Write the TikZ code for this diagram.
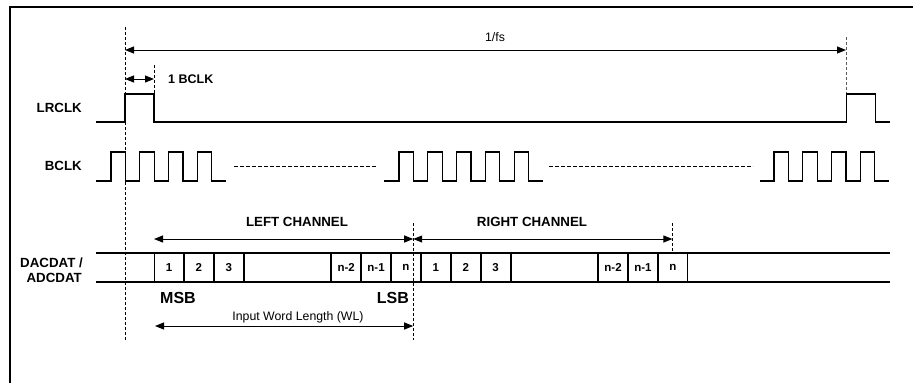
\documentclass[tikz,border=0pt]{standalone}
\usepackage{fontspec}
\setmainfont{Liberation Sans}
\usetikzlibrary{arrows.meta}
\begin{document}
\begin{tikzpicture}[x=1pt,y=-1pt,
  sig/.style={line width=1.3pt},
  guide/.style={line width=0.8pt,dash pattern=on 3pt off 2pt},
  gap/.style={line width=0.8pt,dash pattern=on 4pt off 2pt},
  dim/.style={line width=1pt,{Triangle[length=9pt,width=7pt]}-{Triangle[length=9pt,width=7pt]}},
  dimr/.style={line width=1pt,-{Triangle[length=9pt,width=7pt]}},
  lbl/.style={font=\fontsize{13.3}{15}\selectfont\bfseries,inner sep=0pt},
  big/.style={font=\fontsize{16}{18}\selectfont\bfseries,inner sep=0pt},
  reg/.style={font=\fontsize{12.3}{14}\selectfont,inner sep=0pt},
  bit/.style={draw,line width=1.1pt,minimum width=28.8pt,minimum height=29pt,inner sep=0pt,anchor=west,
              font=\fontsize{11.5}{13}\selectfont\bfseries},
]
\useasboundingbox (0,0) rectangle (913,383);
% frame
\draw[line width=2pt] (9.5,383) -- (9.5,6.5) -- (913,6.5);

% signal labels
\node[lbl,anchor=east] (lr) at (82,108) {LRCLK};
\node[lbl,anchor=east] (bc) at (82,166) {BCLK};
\node[lbl,anchor=east,align=right] (dd) at (83,270) {DACDAT /\\ADCDAT\kern1pt};

% coordinates
\coordinate (t0) at (125,27);
\coordinate (t0b) at (125,340);
\coordinate (t1) at (154,65);
\coordinate (t1b) at (154,94);
\coordinate (fsA) at (125,50);
\coordinate (fsB) at (846,50);
\coordinate (fsT) at (846,37);
\coordinate (fsD) at (846,94);
\coordinate (bA) at (125,79);
\coordinate (bB) at (154,79);
\coordinate (mA) at (413.2,223);
\coordinate (mB) at (413.2,340);
\coordinate (rA) at (672.4,223);
\coordinate (rB) at (672.4,253);

% guides
\draw[guide] (t0) -- (t0b);
\draw[guide] (t1) -- (t1b);
\draw[guide,gray!70!black] (fsT) -- (fsD);
\draw[guide] (mA) -- (mB);
\draw[guide] (rA) -- (rB);

% dimension arrows
\draw[dim] (fsA) -- (fsB);
\node[reg] (fs) at (495,37) {1/fs};
\draw[dim] (bA) -- (bB);
\node[lbl,anchor=west,font=\fontsize{12.5}{14}\selectfont\bfseries] (onebclk) at (168,79) {1 BCLK};

% LRCLK
\draw[sig] (96,122) -- (125,122) -- (125,94) -- (154,94) -- (154,122) -- (846.7,122) -- (846.7,94) -- (875.7,94) -- (875.7,122) -- (890,122);

% BCLK
\draw[sig] (96,181) -- (111,181) foreach \i in {1,...,4} { -- ++(0,-29) -- ++(14.4,0) -- ++(0,29) -- ++(14.4,0)};
\draw[sig] (384,181) -- (399,181) foreach \i in {1,...,5} { -- ++(0,-29) -- ++(14.4,0) -- ++(0,29) -- ++(14.4,0)};
\draw[sig] (760,181) -- (774,181) foreach \i in {1,...,4} { -- ++(0,-29) -- ++(14.4,0) -- ++(0,29) -- ++(14.4,0)};
\draw[gap] (234,166) -- (377,166);
\draw[gap] (549,166) -- (753,166);

% data row
\draw[sig] (96,253) -- (890,253);
\draw[sig] (96,282) -- (890,282);
\node[bit] (l1) at (154,267.5) {1};
\node[bit] (l2) at (l1.east) {2};
\node[bit] (l3) at (l2.east) {3};
\node[bit,minimum width=86.4pt] (lx) at (l3.east) {};
\node[bit] (ln2) at (lx.east) {n-2};
\node[bit] (ln1) at (ln2.east) {n-1};
\node[bit] (ln) at (ln1.east) {n};
\node[bit] (r1) at (ln.east) {1};
\node[bit] (r2) at (r1.east) {2};
\node[bit] (r3) at (r2.east) {3};
\node[bit,minimum width=86.4pt] (rx) at (r3.east) {};
\node[bit] (rn2) at (rx.east) {n-2};
\node[bit] (rn1) at (rn2.east) {n-1};
\node[bit] (rn) at (rn1.east) {n};

% channel arrows
\coordinate (cL) at (154,239);
\coordinate (cM) at (413.2,239);
\coordinate (cR) at (672.4,239);
\draw[dim] (cL) -- (cM);
\draw[dim] (cM) -- (cR);
\node[lbl] (left) at (297,222) {LEFT CHANNEL};
\node[lbl] (right) at (532,222) {RIGHT CHANNEL};

% MSB / LSB
\node[big,anchor=west] (msb) at (160,298) {MSB};
\node[big,anchor=east] (lsb) at (409,298) {LSB};

% word length
\coordinate (wA) at (155,326);
\coordinate (wB) at (413.2,326);
\draw[dim] (wA) -- (wB);
\node[reg] (wl) at (298,317) {Input Word Length (WL)};
\end{tikzpicture}
\end{document}
